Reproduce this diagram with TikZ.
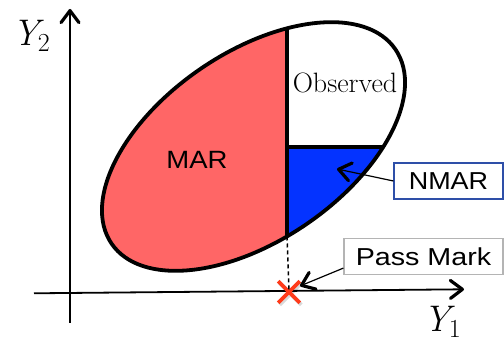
\documentclass[tikz,border=0pt]{standalone}
\usepackage{fontspec}
\newfontfamily\hsans[FakeStretch=1.1]{Liberation Sans}
\newfontfamily\wsans[FakeStretch=1.17]{Liberation Sans}
\usetikzlibrary{arrows.meta,shapes.misc}
\definecolor{marred}{HTML}{FF6666}
\definecolor{nmarblue}{HTML}{0433FF}
\definecolor{boxblue}{HTML}{2E4FA8}
\definecolor{boxgray}{HTML}{B4B4B4}
\definecolor{xred}{HTML}{FF3B1A}
\newcommand{\axlab}[1]{\fontsize{37}{40}\selectfont\itshape Y\kern-1pt\raisebox{-6pt}{\upshape\fontsize{26}{28}\selectfont #1}}
\begin{document}
\begin{tikzpicture}[x=1pt,y=-1pt,
  axisline/.style={line width=1.8pt,-{Straight Barb[length=12pt,width=18pt,line width=3.2pt,round]}},
  callout/.style={line width=1.2pt,-{Straight Barb[length=12pt,width=18pt,line width=3.2pt,round]}},
  border/.style={line width=3.8pt},
  divider/.style={line width=3.4pt},
  sanslabel/.style={font=\hsans\fontsize{25}{30}\selectfont},
  boxlabel/.style={minimum height=36pt, inner sep=0pt, fill=white, line width=1.2pt},
  ell/.style={shift={(253.5,146.5)}, rotate=34.4}
]
\useasboundingbox (0,0) rectangle (504,344);

% regions
\begin{scope}
  \clip[ell] (0,0) ellipse [x radius=172pt, y radius=94pt];
  \fill[marred] (0,0) rectangle (287,344);
  \fill[nmarblue] (287,147) rectangle (504,344);
\end{scope}

\coordinate (dtop) at (287,28.3);
\coordinate (dbot) at (287,236.5);
\coordinate (mid) at (287,147);
\coordinate (hr) at (383.5,147);
\draw[divider] (dtop) -- (dbot);
\draw[divider] (mid) -- (hr);
\draw[border, ell] (0,0) ellipse [x radius=172pt, y radius=94pt];

% axes
\coordinate (vb) at (70,323);
\coordinate (vt) at (70,9);
\coordinate (hb) at (34,293.3);
\coordinate (ht) at (464,289.3);
\draw[axisline] (vb) -- (vt);
\draw[axisline] (hb) -- (ht);
\node (y2) at (31,36) {\axlab{2}};
\node (y1) at (442,322) {\axlab{1}};

% labels
\node[sanslabel] (mar) at (197,160) {MAR};
\node[font=\fontsize{28}{32}\selectfont] (obs) at (345,83) {Observed};

% X marker
\node[cross out, draw=black, opacity=0.15, line width=3.6pt, minimum size=18pt, inner sep=0pt] (xs) at (290.5,294) {};
\node[cross out, draw=xred, line width=3.6pt, minimum size=18pt, inner sep=0pt] (X) at (289,292) {};
\draw[line width=1.5pt, dash pattern=on 4pt off 3pt] (dbot) -- (X.center);

% callout boxes
\node[boxlabel, draw=boxblue, minimum width=109pt, font=\hsans\fontsize{24.5}{28}\selectfont] (nmarbox) at (448.5,181) {NMAR};
\node[boxlabel, draw=boxgray, minimum width=159pt, font=\wsans\fontsize{24.5}{28}\selectfont] (passbox) at (423.5,256.5) {Pass Mark};
\coordinate (nmtip) at (337,169);
\coordinate (pmtip) at (300,286);
\draw[callout] (nmarbox.west) -- (nmtip);
\draw[callout] ([yshift=7pt]passbox.south west) -- (pmtip);
\end{tikzpicture}
\end{document}
